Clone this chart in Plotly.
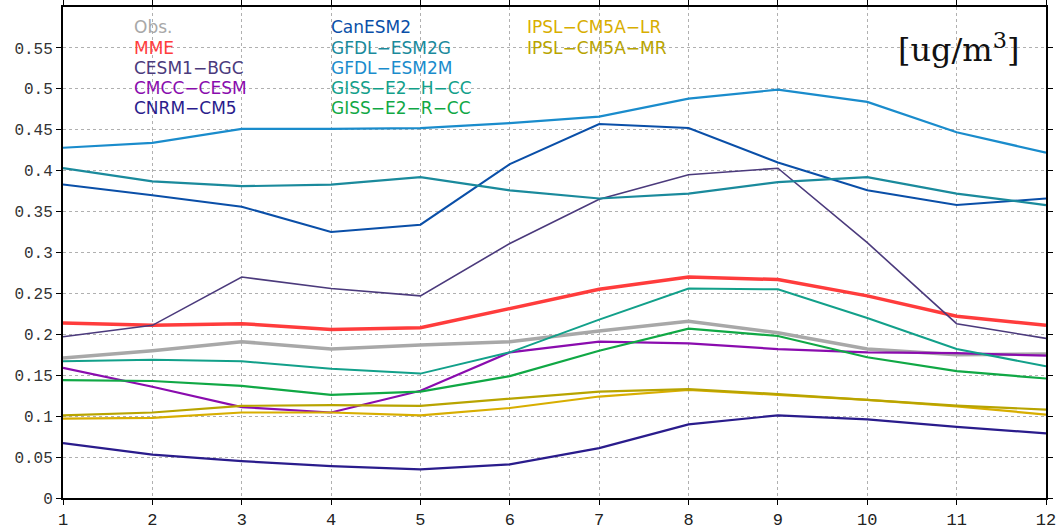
import plotly.graph_objects as go

months = list(range(1, 13))

obs       = [0.171, 0.180, 0.191, 0.182, 0.187, 0.191, 0.204, 0.216, 0.202, 0.182, 0.175, 0.176]
mme       = [0.214, 0.211, 0.213, 0.206, 0.208, 0.232, 0.255, 0.270, 0.267, 0.247, 0.222, 0.211]
cesm1_bgc = [0.197, 0.211, 0.270, 0.256, 0.247, 0.311, 0.365, 0.395, 0.403, 0.312, 0.213, 0.195]
cmcc_cesm = [0.159, 0.136, 0.111, 0.1045, 0.131, 0.178, 0.191, 0.189, 0.182, 0.178, 0.177, 0.174]
cnrm_cm5  = [0.067, 0.053, 0.045, 0.039, 0.035, 0.041, 0.061, 0.090, 0.101, 0.096, 0.087, 0.079]
canesm2   = [0.383, 0.370, 0.356, 0.325, 0.334, 0.408, 0.457, 0.452, 0.410, 0.376, 0.358, 0.366]
gfdl_esm2g = [0.403, 0.387, 0.381, 0.383, 0.392, 0.376, 0.366, 0.372, 0.386, 0.392, 0.372, 0.358]
gfdl_esm2m = [0.428, 0.434, 0.451, 0.451, 0.452, 0.458, 0.466, 0.488, 0.499, 0.484, 0.447, 0.422]
giss_h_cc = [0.167, 0.169, 0.167, 0.158, 0.152, 0.178, 0.218, 0.256, 0.255, 0.220, 0.182, 0.161]
giss_r_cc = [0.144, 0.143, 0.137, 0.126, 0.130, 0.149, 0.180, 0.207, 0.198, 0.172, 0.155, 0.146]
ipsl_lr   = [0.097, 0.098, 0.1045, 0.1045, 0.101, 0.110, 0.124, 0.132, 0.126, 0.120, 0.112, 0.102]
ipsl_mr   = [0.101, 0.1045, 0.1126, 0.1134, 0.1126, 0.121, 0.130, 0.133, 0.127, 0.120, 0.113, 0.108]

y_ticks = [0, 0.05, 0.1, 0.15, 0.2, 0.25, 0.3, 0.35, 0.4, 0.45, 0.5, 0.55]
unit_label = "[ug/m<sup>3</sup>]"

# name, data, color, width, legend column, legend row
series = [
    ("Obs.", obs, "#a8a8a8", 3.5, 0, 0),
    ("MME", mme, "#ff3c3c", 3.5, 0, 1),
    ("CESM1\u2212BGC", cesm1_bgc, "#4b3a7c", 1.6, 0, 2),
    ("CMCC\u2212CESM", cmcc_cesm, "#8a0cae", 2.2, 0, 3),
    ("CNRM\u2212CM5", cnrm_cm5, "#2a1c8c", 2.2, 0, 4),
    ("CanESM2", canesm2, "#0a4fa8", 2.0, 1, 0),
    ("GFDL\u2212ESM2G", gfdl_esm2g, "#1a8a9c", 2.2, 1, 1),
    ("GFDL\u2212ESM2M", gfdl_esm2m, "#1a8ccc", 2.2, 1, 2),
    ("GISS\u2212E2\u2212H\u2212CC", giss_h_cc, "#12a08a", 2.0, 1, 3),
    ("GISS\u2212E2\u2212R\u2212CC", giss_r_cc, "#10a845", 2.2, 1, 4),
    ("IPSL\u2212CM5A\u2212LR", ipsl_lr, "#d8ae00", 2.2, 2, 0),
    ("IPSL\u2212CM5A\u2212MR", ipsl_mr, "#b8a400", 2.2, 2, 1),
]

W, H = 1057, 529
ML, MR, MT, MB = 63, 11, 7, 31
PW, PH = W - ML - MR, H - MT - MB

def px(x):
    return (x - ML) / PW

def py(y):
    return (H - MB - y) / PH

fig = go.Figure()
annotations = []
col_x = [133, 330, 526]
row_y = [27, 47.5, 68, 88, 108]
for name, data, color, width, c, r in series:
    fig.add_trace(go.Scatter(x=months, y=data, mode="lines", name=name,
                             line=dict(color=color, width=width), showlegend=False))
    annotations.append(dict(text=name, x=px(col_x[c]), y=py(row_y[r]), xref="paper", yref="paper",
                            xanchor="left", yanchor="middle", showarrow=False, borderpad=0,
                            font=dict(family="DejaVu Sans", size=17, color=color)))

annotations.append(dict(text=unit_label, x=px(1021), y=py(48), xref="paper", yref="paper",
                        xanchor="right", yanchor="middle", showarrow=False,
                        font=dict(family="DejaVu Serif", size=32, color="#111")))

fig.update_layout(
    width=W, height=H,
    margin=dict(l=ML, r=MR, t=MT, b=MB, pad=0, autoexpand=False),
    paper_bgcolor="white", plot_bgcolor="white",
    annotations=annotations,
    xaxis=dict(range=[1, 12], tickvals=months, ticks="outside", ticklen=5, tickcolor="black",
               showline=True, linecolor="black", linewidth=2, mirror="ticks", automargin=False,
               ticklabeloverflow="allow",
               showgrid=True, gridcolor="#b0b0b0", griddash="dot", gridwidth=1,
               zeroline=False, tickfont=dict(family="Liberation Mono", size=17, color="#222")),
    yaxis=dict(range=[0, 0.6], tickvals=y_ticks, ticks="outside", ticklen=5, tickcolor="black",
               showline=True, linecolor="black", linewidth=2, mirror="ticks", automargin=False,
               showgrid=True, gridcolor="#b0b0b0", griddash="dot", gridwidth=1,
               zeroline=False, tickfont=dict(family="Liberation Mono", size=16, color="#333")),
)

fig.write_html("out.html")
